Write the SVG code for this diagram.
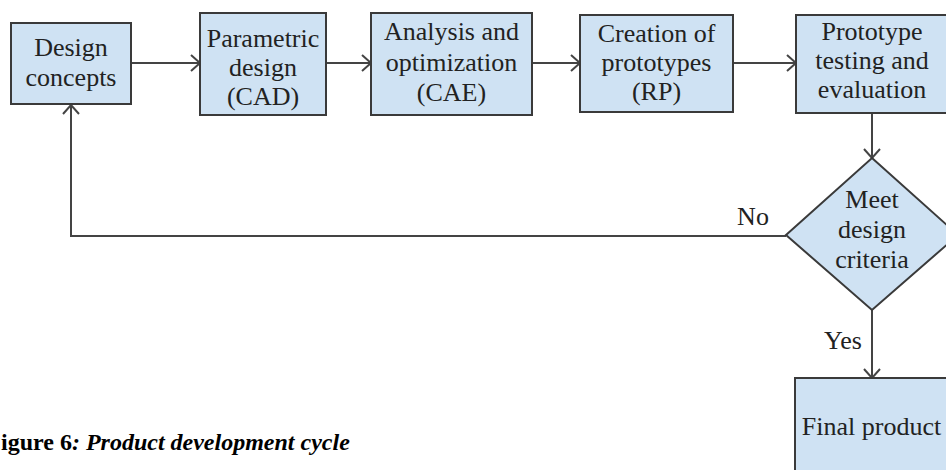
<svg xmlns="http://www.w3.org/2000/svg" width="946" height="470" viewBox="0 0 946 470">
  <style>
    .box { fill: #cfe2f3; stroke: #3a3a3a; stroke-width: 2; }
    .lbl { font-family: "Liberation Serif", "Times New Roman", serif; font-size: 26px; fill: #222; text-anchor: middle; }
    .edge { fill: none; stroke: #444; stroke-width: 2; }
    .cap { font-family: "Liberation Serif", "Times New Roman", serif; font-size: 24px; font-weight: bold; fill: #000; }
  </style>
  <defs>
    <marker id="arrow" markerUnits="userSpaceOnUse" markerWidth="14" markerHeight="20" refX="10" refY="9" orient="auto">
      <path d="M1,1 L10,9 L1,17" fill="none" stroke="#444" stroke-width="2"/>
    </marker>
  </defs>

  <rect width="946" height="470" fill="#fff"/>

  <!-- connectors -->
  <g id="connectors">
    <line class="edge" x1="131" y1="63" x2="200" y2="63" marker-end="url(#arrow)"/>
    <line class="edge" x1="326" y1="63" x2="371" y2="63" marker-end="url(#arrow)"/>
    <line class="edge" x1="532" y1="63" x2="580" y2="63" marker-end="url(#arrow)"/>
    <line class="edge" x1="733" y1="63" x2="796" y2="63" marker-end="url(#arrow)"/>
    <line class="edge" x1="872" y1="113" x2="872" y2="158" marker-end="url(#arrow)"/>
    <polyline class="edge" points="786,236 71,236 71,105" marker-end="url(#arrow)"/>
    <line class="edge" x1="872" y1="310" x2="872" y2="378" marker-end="url(#arrow)"/>
    <text class="lbl" x="753" y="225">No</text>
    <text class="lbl" x="843" y="349">Yes</text>
  </g>

  <g id="design-concepts">
    <rect class="box" x="11" y="23" width="120" height="81"/>
    <text class="lbl" x="71" y="56">Design</text>
    <text class="lbl" x="71" y="86">concepts</text>
  </g>

  <g id="parametric-design">
    <rect class="box" x="200" y="13" width="126" height="102"/>
    <text class="lbl" x="263" y="47">Parametric</text>
    <text class="lbl" x="263" y="76">design</text>
    <text class="lbl" x="263" y="105">(CAD)</text>
  </g>

  <g id="analysis">
    <rect class="box" x="371" y="13" width="161" height="102"/>
    <text class="lbl" x="451.5" y="40">Analysis and</text>
    <text class="lbl" x="451.5" y="71">optimization</text>
    <text class="lbl" x="451.5" y="101">(CAE)</text>
  </g>

  <g id="prototypes">
    <rect class="box" x="580" y="15" width="153" height="97"/>
    <text class="lbl" x="656.5" y="42">Creation of</text>
    <text class="lbl" x="656.5" y="71">prototypes</text>
    <text class="lbl" x="656.5" y="100">(RP)</text>
  </g>

  <g id="testing">
    <rect class="box" x="796" y="15" width="152" height="98"/>
    <text class="lbl" x="872" y="40">Prototype</text>
    <text class="lbl" x="872" y="69">testing and</text>
    <text class="lbl" x="872" y="98">evaluation</text>
  </g>

  <g id="criteria">
    <polygon class="box" points="872,158 958,235 872,310 786,235"/>
    <text class="lbl" x="872" y="208">Meet</text>
    <text class="lbl" x="872" y="238">design</text>
    <text class="lbl" x="872" y="268">criteria</text>
  </g>

  <g id="final-product">
    <rect class="box" x="795" y="378" width="153" height="100"/>
    <text class="lbl" x="871.5" y="435">Final product</text>
  </g>

  <text class="cap" x="1" y="450">igure 6<tspan font-style="italic">: Product development cycle</tspan></text>
</svg>
